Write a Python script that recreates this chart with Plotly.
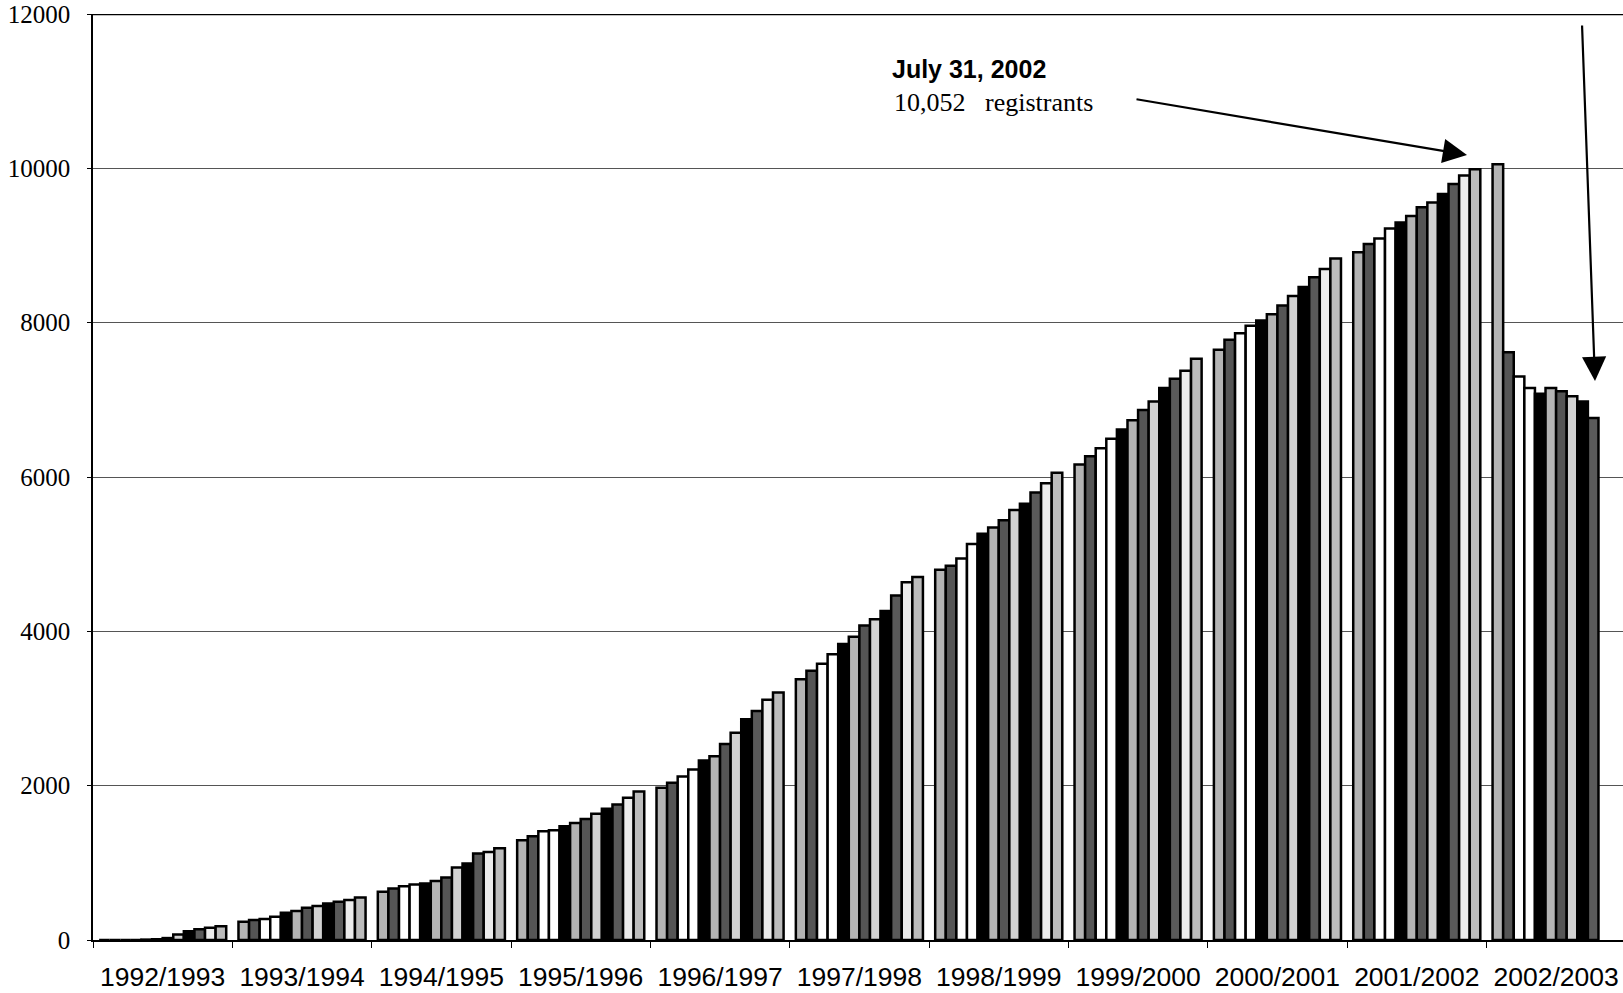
import plotly.graph_objects as go

# Academic years (Aug - Jul) on the category axis
years = ["1992/1993", "1993/1994", "1994/1995", "1995/1996", "1996/1997",
         "1997/1998", "1998/1999", "1999/2000", "2000/2001", "2001/2002",
         "2002/2003"]

months = ["Aug", "Sep", "Oct", "Nov", "Dec", "Jan",
          "Feb", "Mar", "Apr", "May", "Jun", "Jul"]

y_ticks = [0, 2000, 4000, 6000, 8000, 10000, 12000]

# Registrants at each month end, one list per academic year
reg_1992_93 = [0, 0, 0, 0, 5, 10, 25, 70, 115, 140, 158, 178]
reg_1993_94 = [236, 258, 271, 301, 353, 375, 418, 440, 474, 495, 517, 551]
reg_1994_95 = [624, 668, 698, 720, 732, 766, 810, 939, 991, 1120, 1141, 1190]
reg_1995_96 = [1292, 1344, 1408, 1421, 1473, 1516, 1567, 1637, 1701, 1757, 1844, 1925]
reg_1996_97 = [1973, 2037, 2119, 2209, 2325, 2380, 2540, 2686, 2860, 2967, 3114, 3207]
reg_1997_98 = [3380, 3488, 3581, 3702, 3835, 3929, 4076, 4156, 4263, 4463, 4637, 4704]
reg_1998_99 = [4797, 4851, 4945, 5132, 5265, 5345, 5439, 5573, 5653, 5800, 5920, 6054]
reg_1999_00 = [6161, 6268, 6374, 6495, 6615, 6735, 6869, 6980, 7153, 7274, 7377, 7532]
reg_2000_01 = [7648, 7778, 7864, 7959, 8027, 8109, 8221, 8347, 8463, 8588, 8696, 8833]
reg_2001_02 = [8911, 9019, 9092, 9221, 9299, 9381, 9497, 9557, 9669, 9798, 9906, 9988]
reg_2002_03 = [10052, 7618, 7303, 7153, 7080, 7153, 7110, 7045, 6980, 6765, None, None]

by_year = [reg_1992_93, reg_1993_94, reg_1994_95, reg_1995_96, reg_1996_97,
           reg_1997_98, reg_1998_99, reg_1999_00, reg_2000_01, reg_2001_02,
           reg_2002_03]

# Monochrome fill for each month's series
fills = ["#b4b4b4", "#555555", "#ffffff", "#ffffff", "#000000", "#b4b4b4",
         "#555555", "#d2d2d2", "#000000", "#5a5a5a", "#ececec", "#bcbcbc"]

fig = go.Figure()
for m, name in enumerate(months):
    fig.add_trace(go.Bar(
        x=years,
        y=[yr[m] for yr in by_year],
        name=name,
        marker=dict(color=fills[m], line=dict(color="#000000", width=2.5)),
        showlegend=False,
    ))

W, H = 1623, 993
ML, MR, MT, MB = 93, 0, 14, 53
pw, ph = W - ML - MR, H - MT - MB


def px_to_paper(px, py):
    return (px - ML) / pw, (H - MB - py) / ph


annotations = []
tx, ty = px_to_paper(890, 69)
annotations.append(dict(
    x=tx, y=ty, xref="paper", yref="paper", xanchor="left", yanchor="middle",
    text="<b>July 31, 2002</b>", showarrow=False,
    font=dict(family="Liberation Sans", size=25, color="#000000")))
tx, ty = px_to_paper(892, 103)
annotations.append(dict(
    x=tx, y=ty, xref="paper", yref="paper", xanchor="left", yanchor="middle",
    text="10,052   registrants", showarrow=False,
    font=dict(family="Liberation Serif", size=26, color="#000000")))

# Arrow to the July 2002 peak
hx, hy = px_to_paper(1467, 155)
annotations.append(dict(
    x=hx, y=hy, xref="paper", yref="paper", text="", showarrow=True,
    ax=1135 - 1467, ay=99 - 155, arrowhead=2, arrowsize=2.2,
    arrowwidth=2.2, arrowcolor="#000000"))
# Arrow down to the latest month
hx, hy = px_to_paper(1595, 381)
annotations.append(dict(
    x=hx, y=hy, xref="paper", yref="paper", text="", showarrow=True,
    ax=1582 - 1595, ay=24 - 381, arrowhead=2, arrowsize=2.2,
    arrowwidth=2.2, arrowcolor="#000000"))

fig.update_layout(
    width=W, height=H,
    margin=dict(l=ML, r=MR, t=MT, b=MB),
    paper_bgcolor="#ffffff", plot_bgcolor="#ffffff",
    barmode="group", bargap=0.088, bargroupgap=0,
    annotations=annotations,
    shapes=[dict(type="line", xref="paper", yref="y", x0=0, x1=1,
                 y0=12000, y1=12000, line=dict(color="#000000", width=2.5))],
)

fig.update_xaxes(
    type="category", categoryorder="array", categoryarray=years,
    range=[-0.5, 10.48], automargin=False,
    tickson="boundaries", ticks="outside", ticklen=6, tickcolor="#000000",
    showline=True, linecolor="#000000", linewidth=1.5, showgrid=False,
    tickfont=dict(family="Liberation Sans", size=26.5, color="#000000"),
    ticklabelstandoff=12,
)
fig.update_yaxes(
    range=[0, 12000], tickmode="array", tickvals=y_ticks,
    ticktext=[str(v) for v in y_ticks],
    ticklabeloverflow="allow", automargin=False,
    showgrid=True, gridcolor="#555555", gridwidth=1, zeroline=False,
    showline=True, linecolor="#000000", linewidth=1.5,
    ticks="outside", ticklen=4, tickcolor="#000000",
    tickfont=dict(family="Liberation Serif", size=25, color="#000000"),
    ticklabelstandoff=12,
)

fig.write_html("out.html")
